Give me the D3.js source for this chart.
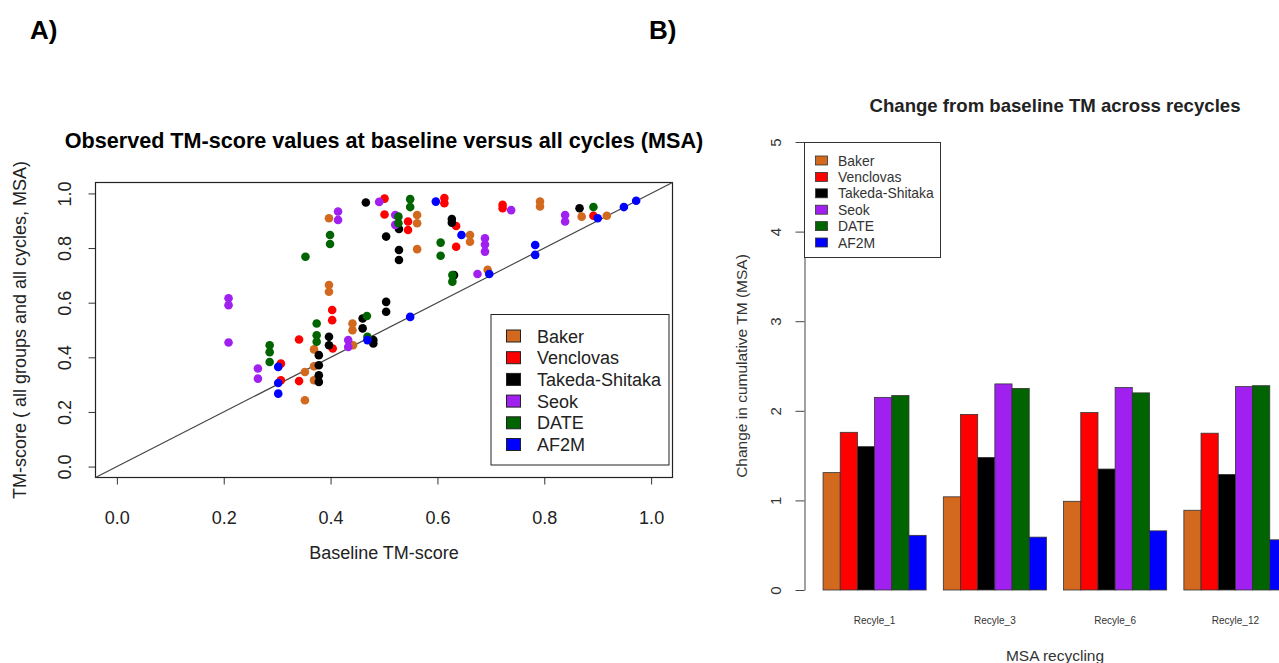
<!doctype html>
<html>
  <head>
    <script src="https://d3js.org/d3.v7.min.js"></script>
    <style>
      body { margin: 0; background: #fff; }
      text { font-family: "Liberation Sans", Arial, Helvetica, sans-serif; }
    </style>
  </head>
  <body>
    <div id="graphic"></div>
    <script>

// groups and their colours (shared by both panels)
var groups = ["Baker", "Venclovas", "Takeda-Shitaka", "Seok", "DATE", "AF2M"];
var groupColors = ["#D2691E", "#FF0000", "#000000", "#A020F0", "#006400", "#0000FF"];

// Panel A: [baseline TM-score, TM-score at a cycle]
var bakerPts = [[0.397,0.909],[0.397,0.665],[0.397,0.640],[0.441,0.524],[0.441,0.499],[0.442,0.444],
  [0.369,0.429],[0.369,0.367],[0.352,0.346],[0.369,0.316],[0.352,0.243],[0.562,0.921],[0.562,0.891],
  [0.562,0.796],[0.661,0.848],[0.661,0.823],[0.694,0.720],[0.792,0.970],[0.792,0.952],[0.870,0.915],[0.917,0.918]];
var venclovasPts = [[0.501,0.981],[0.501,0.923],[0.403,0.573],[0.403,0.536],[0.341,0.465],[0.404,0.432],
  [0.307,0.377],[0.307,0.316],[0.341,0.313],[0.613,0.983],[0.613,0.964],[0.545,0.897],[0.545,0.866],
  [0.635,0.881],[0.635,0.805],[0.722,0.958],[0.722,0.946],[0.892,0.918]];
var takedaPts = [[0.466,0.967],[0.504,0.842],[0.504,0.603],[0.504,0.567],[0.460,0.542],[0.460,0.506],
  [0.480,0.463],[0.480,0.451],[0.397,0.475],[0.397,0.444],[0.378,0.408],[0.378,0.371],[0.378,0.334],
  [0.378,0.310],[0.528,0.870],[0.528,0.793],[0.528,0.756],[0.627,0.906],[0.627,0.893],[0.631,0.701],[0.866,0.946]];
var seokPts = [[0.209,0.616],[0.209,0.591],[0.209,0.454],[0.264,0.359],[0.264,0.322],[0.433,0.463],
  [0.433,0.438],[0.414,0.934],[0.414,0.903],[0.491,0.969],[0.521,0.921],[0.521,0.885],[0.689,0.836],
  [0.689,0.813],[0.689,0.787],[0.675,0.705],[0.738,0.939],[0.839,0.921],[0.839,0.897]];
var datePts = [[0.399,0.848],[0.399,0.815],[0.353,0.768],[0.374,0.524],[0.374,0.481],[0.374,0.457],
  [0.286,0.444],[0.286,0.419],[0.286,0.383],[0.468,0.551],[0.469,0.475],[0.549,0.979],[0.549,0.950],
  [0.527,0.915],[0.527,0.891],[0.606,0.820],[0.606,0.772],[0.628,0.701],[0.628,0.677],[0.892,0.950]];
var af2mPts = [[0.302,0.365],[0.302,0.306],[0.302,0.267],[0.469,0.463],[0.549,0.548],[0.597,0.970],
  [0.645,0.848],[0.697,0.705],[0.783,0.811],[0.783,0.775],[0.900,0.909],[0.949,0.950],[0.972,0.973]];
var scatterPts = [bakerPts, venclovasPts, takedaPts, seokPts, datePts, af2mPts];
var ticksA = [0, 0.2, 0.4, 0.6, 0.8, 1.0];

// Panel B: change in cumulative TM per recycle
var recycles = ["Recyle_1", "Recyle_3", "Recyle_6", "Recyle_12"];
var bakerChange     = [1.31, 1.04, 0.99, 0.89];
var venclovasChange = [1.76, 1.96, 1.98, 1.75];
var takedaChange    = [1.60, 1.48, 1.35, 1.29];
var seokChange      = [2.15, 2.30, 2.26, 2.27];
var dateChange      = [2.17, 2.25, 2.20, 2.28];
var af2mChange      = [0.61, 0.59, 0.66, 0.56];
var barValues = [bakerChange, venclovasChange, takedaChange, seokChange, dateChange, af2mChange];
var ticksB = [0, 1, 2, 3, 4, 5];

var svg = d3.select("#graphic").append("svg")
    .attr("width", 1279)
    .attr("height", 663);

// panel letters
svg.append("text").attr("x", 30).attr("y", 39)
  .style("font-size", "26px").style("font-weight", "bold").text("A)");
svg.append("text").attr("x", 649).attr("y", 39)
  .style("font-size", "26px").style("font-weight", "bold").text("B)");

// ================= Panel A : scatter =================
var xA = d3.scaleLinear().domain([-0.04, 1.04]).range([95.5, 672.5]);
var yA = d3.scaleLinear().domain([-0.04, 1.04]).range([477.5, 182.5]);

var gA = svg.append("g");

// x axis
var xAxisA = gA.append("g")
  .attr("transform", "translate(0," + yA(-0.04) + ")")
  .call(d3.axisBottom(xA).tickValues(ticksA).tickFormat(d3.format(".1f")).tickSize(7).tickSizeOuter(0));
xAxisA.select(".domain").remove();
xAxisA.selectAll("text").attr("y", 46).attr("dy", 0)
  .style("font-size", "18px").style("fill", "#222");
xAxisA.selectAll("line").style("stroke", "#333");

// y axis (rotated labels like R)
var yAxisA = gA.append("g")
  .attr("transform", "translate(" + xA(-0.04) + ",0)")
  .call(d3.axisLeft(yA).tickValues(ticksA).tickFormat(d3.format(".1f")).tickSize(7).tickSizeOuter(0));
yAxisA.select(".domain").remove();
yAxisA.selectAll("text")
  .attr("x", 0).attr("y", 0).attr("dy", 0)
  .attr("text-anchor", "middle")
  .attr("transform", "translate(-25,0) rotate(-90)")
  .style("font-size", "18px").style("fill", "#222");
yAxisA.selectAll("line").style("stroke", "#333");

// box
gA.append("rect")
  .attr("x", xA(-0.04)).attr("y", yA(1.04))
  .attr("width", xA(1.04) - xA(-0.04)).attr("height", yA(-0.04) - yA(1.04))
  .style("fill", "none").style("stroke", "#222").style("stroke-width", 1.2);

// y = x reference line
gA.append("line")
  .attr("x1", xA(-0.04)).attr("y1", yA(-0.04))
  .attr("x2", xA(1.04)).attr("y2", yA(1.04))
  .style("stroke", "#444").style("stroke-width", 1.2);

// points, group by group
scatterPts.forEach(function (pts, i) {
  gA.append("g").selectAll("circle")
    .data(pts)
    .enter()
    .append("circle")
    .attr("cx", d => xA(d[0]))
    .attr("cy", d => yA(d[1]))
    .attr("r", 4.3)
    .style("fill", groupColors[i]);
});

// titles
gA.append("text")
  .attr("x", (xA(-0.04) + xA(1.04)) / 2).attr("y", 148)
  .attr("text-anchor", "middle")
  .style("font-size", "21.6px").style("font-weight", "bold")
  .text("Observed TM-score values at baseline versus all cycles (MSA)");

gA.append("text")
  .attr("x", (xA(-0.04) + xA(1.04)) / 2).attr("y", 559)
  .attr("text-anchor", "middle")
  .style("font-size", "18px").style("fill", "#222")
  .text("Baseline TM-score");

gA.append("text")
  .attr("text-anchor", "middle")
  .attr("transform", "translate(26," + (yA(-0.04) + yA(1.04)) / 2 + ") rotate(-90)")
  .style("font-size", "18px").style("fill", "#222")
  .text("TM-score ( all groups and all cycles, MSA)");

// legend
var legA = gA.append("g");
legA.append("rect")
  .attr("x", 491).attr("y", 314.5).attr("width", 178).attr("height", 150.5)
  .style("fill", "#fff").style("stroke", "#222");
groups.forEach(function (name, i) {
  var cy = 336 + i * 21.7;
  legA.append("rect")
    .attr("x", 506.5).attr("y", cy - 6).attr("width", 14).attr("height", 12)
    .style("fill", groupColors[i]).style("stroke", "#222");
  legA.append("text")
    .attr("x", 537).attr("y", cy + 6.5)
    .style("font-size", "18px").style("fill", "#222")
    .text(name);
});

// ================= Panel B : grouped bars =================
// bar units as in R barplot(beside=TRUE): 6 bars + 1 gap per group
var xB = d3.scaleLinear().domain([-0.08, 29.08]).range([804.5, 1305.5]);
var yB = d3.scaleLinear().domain([0, 5]).range([590, 142]);
var unit = xB(1) - xB(0);

var gB = svg.append("g");

recycles.forEach(function (rec, j) {
  barValues.forEach(function (vals, i) {
    gB.append("rect")
      .attr("x", xB(j * 7 + 1 + i))
      .attr("y", yB(vals[j]))
      .attr("width", unit)
      .attr("height", yB(0) - yB(vals[j]))
      .style("fill", groupColors[i])
      .style("stroke", "#333")
      .style("stroke-width", 0.8);
  });
  gB.append("text")
    .attr("x", xB(j * 7 + 4)).attr("y", 623.5)
    .attr("text-anchor", "middle")
    .style("font-size", "10px").style("fill", "#333")
    .text(rec);
});

var yAxisB = gB.append("g")
  .attr("transform", "translate(804.5,0)")
  .call(d3.axisLeft(yB).tickValues(ticksB).tickFormat(d3.format("d")).tickSize(9).tickSizeOuter(0));
yAxisB.select(".domain").style("stroke", "#444");
yAxisB.selectAll("line").style("stroke", "#444");
yAxisB.selectAll("text")
  .attr("x", 0).attr("y", 0).attr("dy", 0)
  .attr("text-anchor", "middle")
  .attr("transform", "translate(-24,0) rotate(-90)")
  .style("font-size", "15px").style("fill", "#333");

gB.append("text")
  .attr("x", xB(14.5)).attr("y", 111.5)
  .attr("text-anchor", "middle")
  .style("font-size", "18.6px").style("font-weight", "bold").style("fill", "#222")
  .text("Change from baseline TM across recycles");

gB.append("text")
  .attr("x", xB(14.5)).attr("y", 660.5)
  .attr("text-anchor", "middle")
  .style("font-size", "15.5px").style("fill", "#333")
  .text("MSA recycling");

gB.append("text")
  .attr("text-anchor", "middle")
  .attr("transform", "translate(747," + (yB(0) + yB(5)) / 2 + ") rotate(-90)")
  .style("font-size", "15.5px").style("fill", "#333")
  .text("Change in cumulative TM (MSA)");

// legend
var legB = gB.append("g");
legB.append("rect")
  .attr("x", 804.5).attr("y", 142.5).attr("width", 136).attr("height", 115)
  .style("fill", "#fff").style("stroke", "#333");
groups.forEach(function (name, i) {
  var cy = 160.5 + i * 16.4;
  legB.append("rect")
    .attr("x", 815.5).attr("y", cy - 4.5).attr("width", 12).attr("height", 9)
    .style("fill", groupColors[i]).style("stroke", "#333").style("stroke-width", 0.8);
  legB.append("text")
    .attr("x", 838).attr("y", cy + 5)
    .style("font-size", "13.9px").style("fill", "#333")
    .text(name);
});

    </script>
  </body>
</html>
